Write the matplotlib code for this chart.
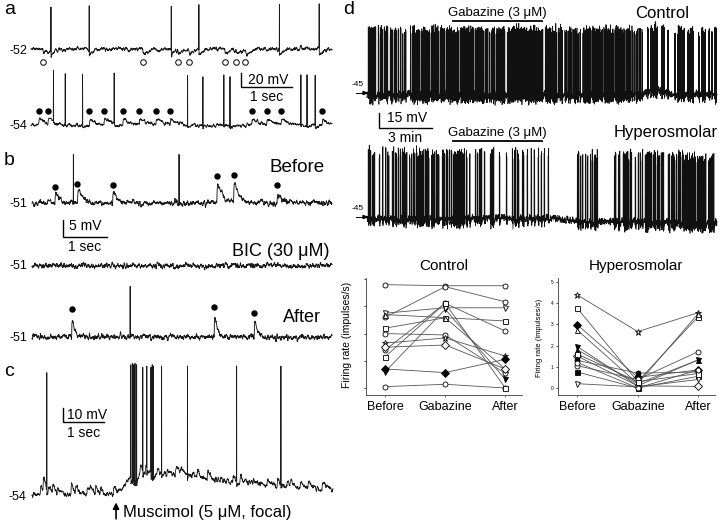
import numpy as np
import matplotlib
matplotlib.use('Agg')
import matplotlib.pyplot as plt

plt.rcParams['font.family'] = ['Liberation Sans', 'DejaVu Sans']

# ---------------- data ----------------
# panel a, times in s
a1_spikes = [0.39, 1.14, 2.75, 3.29, 4.87, 5.65]
a1_ipsps = [0.23, 2.19, 2.88, 3.10, 3.80, 4.02, 4.20]
a2_spikes = [0.44, 0.67, 1.01, 1.63, 3.07, 3.37, 3.78, 3.90, 5.29, 5.41, 5.57]
a2_psps = [0.15, 0.33, 1.14, 1.43, 1.80, 2.12, 2.45, 2.73, 4.33, 4.62, 4.90, 5.71]
# panel b
b1_spikes = [0.94, 3.34]
b1_psps = [0.52, 1.03, 1.83, 4.20, 4.58, 5.57]
b1_psp_amp = [3.0, 3.9, 3.3, 6.0, 6.0, 2.6]
b1_dot_mv = [-46.1, -45.3, -45.6, -42.9, -42.6, -45.6]
b3_spikes = [2.23]
b3_psps = [0.90, 4.14, 5.05]
b3_psp_amp = [5.5, 6.0, 4.5]
b3_dot_mv = [-42.6, -41.9, -43.8]
# panel c
c_spikes = [0.36, 2.41, 2.45, 2.48, 2.51, 2.55, 2.70, 2.80, 2.90, 2.93, 2.96, 3.16, 3.79, 4.99, 6.07]
c_spike_peak = [38, 44, 45, 44, 45, 44, 42, 43, 42, 44, 43, 43, 43, 43, 43]
c_psps = [0.20, 0.27, 0.39, 0.49, 0.61, 0.95, 1.05, 1.34, 1.41, 1.54, 1.66, 1.98,
          2.63, 2.76, 3.05, 3.29, 3.49, 3.61, 4.02, 4.27, 4.59, 4.90, 5.07, 5.39,
          5.73, 5.98, 6.22, 6.29, 6.54, 6.73, 7.07]
c_psp_amp = [7, 9, 5, 6, 4, 8, 5, 6, 4, 5, 4, 6,
             6, 5, 4, 5, 6, 4, 4, 5, 3, 4, 5, 4,
             5, 6, 4, 5, 5, 4, 5]
c_drift_t = [0, 2.05, 2.2, 2.4, 2.7, 3.8, 4.5, 5.5, 6.5, 7.34]
c_drift_mv = [0, 0, 5, 13, 16, 15, 11, 7.5, 5, 4.5]
c_muscimol_t = 2.05
# panel d, times in min
d_ctrl_edges = [0, 1.87, 4.7, 10.9, 15.7, 19.8]
d_ctrl_density = [0.75, 0.8, 0.85, 0.85, 0.35]
d_ctrl_drift_t = [0, 15.5, 16.4, 17.3, 19.8]
d_ctrl_drift_mv = [0, 0, 4, 0, 0]
d_hyp_edges = [0, 0.74, 1.41, 1.58, 2.04, 3.40, 4.13, 4.98, 5.55, 6.11, 8.09, 9.05,
               10.47, 11.77, 12.73, 13.19, 13.92, 14.60, 14.88, 15.73, 16.58, 17.15, 19.8]
d_hyp_density = [0.85, 0.5, 0.8, 0.4, 0.8, 0.7, 0.5, 0.85, 0.35, 0.3, 0.5, 0.25,
                 0.0, 0.4, 0.6, 0.15, 0.4, 0.9, 0.4, 0.8, 0.5, 0.75]
d_hyp_drift_t = [0, 10.5, 12.0, 19.8]
d_hyp_drift_mv = [0, 0, -3, -4]
d_gabazine = [4.87, 9.90]
# firing-rate panels
conditions = ['Before', 'Gabazine', 'After']
ctrl_before = [7.6, 5.2, 2.8, 1.2, 5.5, 4.4, 5.4, 4.0, 3.3, 1.4, 3.0, 0.1, 2.3]
ctrl_gabazine = [7.52, 7.45, 6.23, 5.79, 5.90, 5.17, 5.17, 3.9, 3.68, 1.13, 3.16, 0.27, 6.23]
ctrl_after = [7.52, 6.34, 4.19, 0.64, 5.9, 4.93, 1.4, 1.08, 2.35, 2.11, 1.4, 0.0, 0.0]
ctrl_markers = ['o', 'o', 'o', 'v', 'v', 's', '^', 'o', '*', 'D', 'D', 'o', 's']
ctrl_filled = [False, False, False, True, False, False, False, False, False, True, False, False, False]
hyp_before = [4.39, 3.76, 2.98, 2.73, 1.95, 1.05, 0.75, 0.2, 1.5, 1.8, 1.3, 1.6, 1.2]
hyp_gabazine = [2.66, 0.3, 0.5, 0.2, 0.1, 0.4, 0.0, 0.05, 0.1, 0.2, 0.7, 0.3, 0.0]
hyp_after = [3.55, 3.36, 0.85, 3.5, 1.32, 1.71, 0.55, 0.4, 0.07, 1.32, 0.75, 0.68, 0.85]
hyp_markers = ['*', 's', 'D', '^', 'v', 'o', 's', 'v', 'D', '^', 'o', 's', 'o']
hyp_filled = [False, False, True, False, True, False, True, False, False, True, True, False, False]

# ---------------- helpers ----------------
W, H = 720, 523
fig = plt.figure(figsize=(7.2, 5.23), dpi=100)


def px_axes(x0, y0, x1, y1):
    return fig.add_axes([x0 / W, 1 - y1 / H, (x1 - x0) / W, (y1 - y0) / H])


def ftext(x, y, s, **kw):
    fig.text(x / W, 1 - y / H, s, **kw)


def texture(n, seed, width):
    # deterministic recording-noise texture
    i = np.arange(n, dtype=float)
    h = np.sin(i * 12.9898 + seed * 78.233) * 43758.5453
    h = h - np.floor(h) - 0.5
    if width > 1:
        h = np.convolve(h, np.ones(width) / width, mode='same')
    return (h - h.mean()) / h.std()


def hash01(j, seed):
    x = np.sin(j * 91.345 + seed * 47.853) * 24634.6345
    return x - np.floor(x)


def make_trace(T, n, v0, noise_sd, noise_w, seed, spikes=(), spike_amp=60.0,
               spike_abs=False, ahp=0.0, ahp_tau=0.05, psps=(), psp_amp=(),
               tau_r=0.01, tau_d=0.08, drift=None):
    t = np.linspace(0, T, n)
    v = np.full(n, float(v0))
    if drift is not None:
        v += np.interp(t, drift[0], drift[1])
    v += noise_sd * texture(n, seed, noise_w)
    tpk = tau_r * tau_d / (tau_d - tau_r) * np.log(tau_d / tau_r)
    norm = np.exp(-tpk / tau_d) - np.exp(-tpk / tau_r)
    for tp, a in zip(psps, psp_amp):
        dt = t - tp
        m = dt > 0
        v[m] += a * (np.exp(-dt[m] / tau_d) - np.exp(-dt[m] / tau_r)) / norm
    base = v.copy()
    amps = np.broadcast_to(np.asarray(spike_amp, dtype=float), (len(spikes),))
    idx = [min(int(np.searchsorted(t, ts)), n - 2) for ts in spikes]
    if ahp:
        for k in idx:
            dt = t - t[k]
            m = dt > 0
            v[m] -= ahp * np.exp(-dt[m] / ahp_tau)
    for k, a in zip(idx, amps):
        v[k] = a if spike_abs else base[k] + a
    return t, v


def trace_axes(x0, x1, ybase, px_t, px_mv, vbase, ytop, ybot):
    ax = px_axes(x0, ytop, x1, ybot)
    ax.set_xlim(0, (x1 - x0) / px_t)
    ax.set_ylim(vbase - (ybot - ybase) / px_mv, vbase + (ybase - ytop) / px_mv)
    ax.axis('off')
    return ax


def column_spikes(edges, dens, px_per_unit, per_col, seed):
    times = []
    col = 1.0 / px_per_unit
    j = 0
    for a, b, d in zip(edges[:-1], edges[1:], dens):
        tc = a
        while tc + col <= b + 1e-9:
            if hash01(j, seed) < d:
                for k in range(per_col):
                    times.append(tc + (k + 0.5) * col / per_col)
            tc += col
            j += 1
    return times


def scale_bar(ax, x, y, dx, dy, ylab, xlab, yl_off, xl_off, fs=10):
    ax.plot([x, x, x + dx], [y + dy, y, y], color='k', lw=1.0, clip_on=False,
            solid_joinstyle='miter')
    ax.text(x + yl_off[0], y + yl_off[1], ylab, fontsize=fs, ha='left', va='center')
    ax.text(x + dx / 2 + xl_off[0], y + xl_off[1], xlab, fontsize=fs, ha='center', va='center')


TR = dict(color='#1a1a1a', lw=0.65, clip_on=False)

# ---------------- panel a ----------------
pxs_a, pxmv_a = 51.0, 0.7
Ta = (332 - 31) / pxs_a
ax = trace_axes(31, 332, 49, pxs_a, pxmv_a, -52, 0, 70)
t, v = make_trace(Ta, 2400, -52, 1.4, 10, 1, spikes=a1_spikes, spike_amp=63, ahp=9,
                  ahp_tau=0.07, psps=a1_ipsps, psp_amp=[-6] * len(a1_ipsps), tau_d=0.09)
ax.plot(t, v, **TR)
ax.plot(a1_ipsps, [-70] * len(a1_ipsps), 'o', ms=4, mfc='white', mec='k', mew=0.7, clip_on=False)
scale_bar(ax, (241 - 31) / pxs_a, -52 - (87 - 49) / pxmv_a, 1.0, 20.0, '20 mV', '1 sec',
          (0.14, 10.5), (0.0, -14.5))

ax = trace_axes(31, 332, 125, pxs_a, pxmv_a, -54, 70, 140)
t, v = make_trace(Ta, 2400, -54, 1.2, 10, 2, spikes=a2_spikes, spike_amp=71, ahp=3,
                  ahp_tau=0.1, psps=a2_psps, psp_amp=[8] * len(a2_psps), tau_d=0.12)
ax.plot(t, v, **TR)
ax.plot(a2_psps, [-34] * len(a2_psps), 'o', ms=3.6, color='k', clip_on=False)

# ---------------- panel b ----------------
pxs_b, pxmv_b = 44.0, 3.33
Tb = (332 - 32) / pxs_b
ax = trace_axes(32, 332, 203, pxs_b, pxmv_b, -51, 140, 250)
t, v = make_trace(Tb, 2400, -51, 0.4, 8, 3, spikes=b1_spikes, spike_amp=15, ahp=0.0,
                  psps=b1_psps, psp_amp=b1_psp_amp, tau_d=0.1)
ax.plot(t, v, **TR)
ax.plot(b1_psps, b1_dot_mv, 'o', ms=3.6, color='k', clip_on=False)
scale_bar(ax, (63 - 32) / pxs_b, -51 - (237 - 203) / pxmv_b, 1.0, 5.0, '5 mV', '1 sec',
          (0.14, 3.3), (0.0, -3.0))

ax = trace_axes(32, 332, 265.7, pxs_b, pxmv_b, -51, 250, 282)
t, v = make_trace(Tb, 2400, -51, 0.38, 8, 4)
ax.plot(t, v, **TR)

ax = trace_axes(32, 332, 337, pxs_b, pxmv_b, -51, 282, 352)
t, v = make_trace(Tb, 2400, -51, 0.4, 8, 5, spikes=b3_spikes, spike_amp=15.6,
                  psps=b3_psps, psp_amp=b3_psp_amp, tau_r=0.006, tau_d=0.06)
ax.plot(t, v, **TR)
ax.plot(b3_psps, b3_dot_mv, 'o', ms=3.6, color='k', clip_on=False)

# ---------------- panel c ----------------
pxs_c, pxmv_c = 41.0, 1.33
Tc = (333 - 32) / pxs_c
ax = trace_axes(32, 333, 495, pxs_c, pxmv_c, -54, 355, 523)
t, v = make_trace(Tc, 2400, -54, 1.0, 8, 6, spikes=c_spikes, spike_amp=c_spike_peak,
                  spike_abs=True, ahp=5, ahp_tau=0.03, psps=c_psps, psp_amp=c_psp_amp,
                  tau_d=0.07, drift=(c_drift_t, c_drift_mv))
ax.plot(t, v, color='#1a1a1a', lw=0.6, clip_on=False)
scale_bar(ax, (63 - 32) / pxs_c, -54 + (495 - 421.7) / pxmv_c, 1.0, 10.0, '10 mV', '1 sec',
          (0.1, 5.2), (0.0, -8.5))
ax.annotate('', xy=(c_muscimol_t, -57.5), xytext=(c_muscimol_t, -74),
            arrowprops=dict(arrowstyle='-|>', color='k', lw=1.2, mutation_scale=9),
            annotation_clip=False)
ftext(123, 512, 'Muscimol (5 \u03bcM, focal)', fontsize=12, ha='left', va='center')

# ---------------- panel d ----------------
pxm_d, pxmv_d = 17.67, 1.0
Td = (717 - 367) / pxm_d
axc = trace_axes(367, 717, 94, pxm_d, pxmv_d, -45, 20, 112)
sp = column_spikes(d_ctrl_edges, d_ctrl_density, pxm_d, 2, 11)
amps = [64 + 6 * (hash01(i, 21) - 0.5) for i in range(len(sp))]
t, v = make_trace(Td, 2800, -45, 2.0, 2, 7, spikes=sp, spike_amp=amps, ahp=7,
                  ahp_tau=0.02, drift=(d_ctrl_drift_t, d_ctrl_drift_mv))
axc.plot(t, v, color='#111111', lw=0.5, clip_on=False)
axc.plot(d_gabazine, [28.3, 28.3], color='k', lw=1.3, clip_on=False)
axc.text(np.mean(d_gabazine), 36, 'Gabazine (3 \u03bcM)', fontsize=9.5, ha='center', va='center')
scale_bar(axc, (379 - 367) / pxm_d, -45 - (128 - 94), 3.0, 15.0, '15 mV', '3 min',
          (0.45, 10), (0.0, -10), fs=10)

axh = trace_axes(367, 717, 218, pxm_d, pxmv_d, -45, 140, 236)
sp = column_spikes(d_hyp_edges, d_hyp_density, pxm_d, 2, 12)
amps = [65 + 10 * (hash01(i, 22) - 0.5) for i in range(len(sp))]
t, v = make_trace(Td, 2800, -45, 1.8, 2, 8, spikes=sp, spike_amp=amps, ahp=8,
                  ahp_tau=0.02, drift=(d_hyp_drift_t, d_hyp_drift_mv))
axh.plot(t, v, color='#111111', lw=0.5, clip_on=False)
axh.plot(d_gabazine, [32, 32], color='k', lw=1.3, clip_on=False)
axh.text(np.mean(d_gabazine), 40, 'Gabazine (3 \u03bcM)', fontsize=9.5, ha='center', va='center')

ftext(662, 14, 'Control', fontsize=12, ha='center', va='center')
ftext(666, 133, 'Hyperosmolar', fontsize=12, ha='center', va='center')
for yb in (93, 217):
    ftext(364, yb - 8, '-45', fontsize=6, ha='right', va='center')
    fig.add_artist(plt.Line2D([356 / W, 366 / W], [1 - yb / H, 1 - yb / H], color='k', lw=0.7))
    fig.add_artist(plt.Polygon([[367 / W, 1 - yb / H], [363 / W, 1 - (yb - 1.6) / H],
                                [363 / W, 1 - (yb + 1.6) / H]], closed=True, color='k'))

# ---------------- firing-rate panels ----------------
def rate_panel(box, title, ylim, yticks, series, markers, filled, ylab_fs, ylab_xy,
               tick_fs, show_ylabels):
    ax = px_axes(*box)
    for vals, m, f in zip(series, markers, filled):
        ms = 5.0 if m == '*' else 3.6
        ax.plot(range(3), vals, color='#555555', lw=0.6, marker=m, ms=ms,
                mfc='k' if f else 'white', mec='k', mew=0.6, clip_on=False)
    ax.set_xlim(-0.32, 2.28)
    ax.set_ylim(*ylim)
    ax.set_xticks(range(3))
    ax.set_xticklabels(conditions, fontsize=9)
    ax.tick_params(axis='x', length=1.5, width=0.5, pad=3, colors='#333333', labelcolor='k')
    ax.set_yticks(yticks)
    if show_ylabels:
        ax.set_yticklabels([str(y) for y in yticks], fontsize=tick_fs)
    else:
        ax.set_yticklabels([])
    ax.tick_params(axis='y', length=1.5, width=0.5, pad=1.5)
    for s in ('top', 'right'):
        ax.spines[s].set_visible(False)
    for s in ('left', 'bottom'):
        ax.spines[s].set_linewidth(0.7)
        ax.spines[s].set_color('#555555')
    ax.set_ylabel('Firing rate (impulses/s)', fontsize=ylab_fs)
    ax.yaxis.set_label_coords(*ylab_xy)
    ax.set_title(title, fontsize=11, pad=6)
    return ax


rate_panel((366, 278, 522, 394.5), 'Control', (-0.48, 8.09), [0, 2, 4, 6, 8],
           list(zip(ctrl_before, ctrl_gabazine, ctrl_after)), ctrl_markers, ctrl_filled,
           7.5, (-0.09, 0.51), 3.5, False)
rate_panel((558, 278, 715, 394.5), 'Hyperosmolar', (-0.31, 5.19), [0, 1, 2, 3, 4, 5],
           list(zip(hyp_before, hyp_gabazine, hyp_after)), hyp_markers, hyp_filled,
           5.5, (-0.096, 0.485), 3.5, True)

# ---------------- labels ----------------
for x, y, s in [(27, 51, '-52'), (27, 126, '-54'), (27, 204, '-51'), (27, 266, '-51'),
                (27, 338, '-51'), (26, 497, '-54')]:
    ftext(x, y, s, fontsize=9, ha='right', va='center')
ftext(325, 168, 'Before', fontsize=13.5, ha='right', va='center')
ftext(329, 252, 'BIC (30 \u03bcM)', fontsize=13, ha='right', va='center')
ftext(321, 317, 'After', fontsize=13, ha='right', va='center')
for x, y, s in [(4, 9, 'a'), (4, 161, 'b'), (4, 371, 'c'), (343, 9, 'd')]:
    ftext(x, y, s, fontsize=14, ha='left', va='center')

fig.savefig('out.png', dpi=100, facecolor='white')
